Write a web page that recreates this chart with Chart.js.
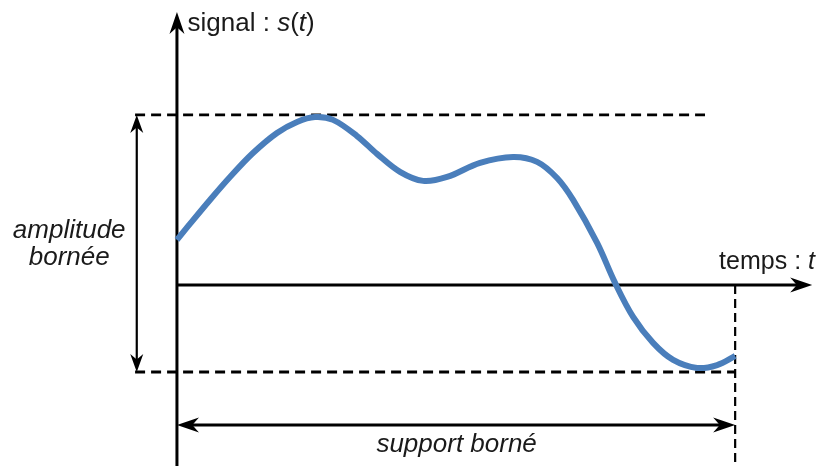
<!DOCTYPE html>
<html>
<head>
<meta charset="utf-8">
<script src="https://cdn.jsdelivr.net/npm/chart.js@4"></script>
<style>
html,body{margin:0;padding:0;background:#fff;}
#wrap{width:820px;height:466px;}
</style>
</head>
<body>
<div id="wrap"><canvas id="c" width="820" height="466"></canvas></div>
<script>
// ---- data (time t, signal s(t)) ----
const timeT = [0, 0.0233, 0.0591, 0.0950, 0.1362, 0.1792, 0.2151, 0.2473, 0.2796, 0.3226, 0.3584, 0.3996, 0.4409, 0.4839, 0.5430, 0.6022, 0.6452, 0.6810, 0.7097, 0.7527, 0.7849, 0.8172, 0.8530, 0.8889, 0.9319, 0.9677, 1.0];
const signalS = [0.265, 0.359, 0.5, 0.635, 0.776, 0.894, 0.959, 0.988, 0.971, 0.876, 0.771, 0.665, 0.612, 0.635, 0.718, 0.753, 0.724, 0.629, 0.5, 0.247, 0.012, -0.188, -0.341, -0.441, -0.488, -0.471, -0.418];
// view range
const xRange = [-0.317, 1.152];
const yRange = [-1.065, 1.676];
// reference levels
const supportBounds = [0, 1];          // support borné
const amplitudeBounds = [-0.512, 1.0]; // amplitude bornée
const topDashEnd = 0.946;
const dashStart = -0.075;
const ampArrowT = -0.072;
const supportArrowS = -0.824;
const axisEnds = [1.138, 1.606];       // x-axis tip, y-axis tip
const labels = {
  yAxis: ["signal : ", "s", "(", "t", ")"],
  xAxis: ["temps : ", "t"],
  amplitude: ["amplitude", "bornée"],
  support: "support borné"
};

const FONT = '"Liberation Sans", Arial, sans-serif';

function arrowHead(ctx, x, y, ang, len, half) {
  ctx.save();
  ctx.translate(x, y);
  ctx.rotate(ang);
  ctx.beginPath();
  ctx.moveTo(0, 0);
  ctx.lineTo(-len, -half);
  ctx.lineTo(-len * 0.7, 0);
  ctx.lineTo(-len, half);
  ctx.closePath();
  ctx.fill();
  ctx.restore();
}

function drawMixed(ctx, parts, italicIdx, x, y, size, align) {
  let widths = parts.map((p, i) => {
    ctx.font = (italicIdx.includes(i) ? 'italic ' : '') + size + 'px ' + FONT;
    return ctx.measureText(p).width;
  });
  let total = widths.reduce((a, b) => a + b, 0);
  let cx = align === 'right' ? x - total : (align === 'center' ? x - total / 2 : x);
  ctx.textAlign = 'left';
  parts.forEach((p, i) => {
    ctx.font = (italicIdx.includes(i) ? 'italic ' : '') + size + 'px ' + FONT;
    ctx.fillText(p, cx, y);
    cx += widths[i];
  });
}

const diagram = {
  id: 'diagram',
  beforeDatasetsDraw(chart) {
    const ctx = chart.ctx;
    const xs = chart.scales.x, ys = chart.scales.y;
    const X = v => xs.getPixelForValue(v), Y = v => ys.getPixelForValue(v);
    ctx.save();
    ctx.strokeStyle = '#000';
    ctx.fillStyle = '#000';
    ctx.lineCap = 'butt';

    // dashed bounds
    ctx.lineWidth = 2.8;
    ctx.setLineDash([10, 6]);
    ctx.beginPath();
    ctx.moveTo(X(dashStart), Y(amplitudeBounds[1]));
    ctx.lineTo(X(topDashEnd), Y(amplitudeBounds[1]));
    ctx.moveTo(X(dashStart), Y(amplitudeBounds[0]));
    ctx.lineTo(X(supportBounds[1]), Y(amplitudeBounds[0]));
    ctx.stroke();
    ctx.lineWidth = 2.2;
    ctx.setLineDash([9, 5]);
    ctx.beginPath();
    ctx.moveTo(X(supportBounds[1]), Y(0));
    ctx.lineTo(X(supportBounds[1]), Y(yRange[0]));
    ctx.stroke();
    ctx.setLineDash([]);

    // axes
    ctx.lineWidth = 3;
    ctx.beginPath();
    ctx.moveTo(X(0), Y(yRange[0]));
    ctx.lineTo(X(0), Y(axisEnds[1]) + 10);
    ctx.moveTo(X(0), Y(0));
    ctx.lineTo(X(axisEnds[0]) - 10, Y(0));
    ctx.stroke();
    arrowHead(ctx, X(0), Y(axisEnds[1]), -Math.PI / 2, 22, 7.5);
    arrowHead(ctx, X(axisEnds[0]), Y(0), 0, 22, 7.5);

    // amplitude double arrow
    ctx.lineWidth = 2.2;
    ctx.beginPath();
    ctx.moveTo(X(ampArrowT), Y(amplitudeBounds[1]) + 8);
    ctx.lineTo(X(ampArrowT), Y(amplitudeBounds[0]) - 8);
    ctx.stroke();
    arrowHead(ctx, X(ampArrowT), Y(amplitudeBounds[1]), -Math.PI / 2, 18, 6.5);
    arrowHead(ctx, X(ampArrowT), Y(amplitudeBounds[0]), Math.PI / 2, 18, 6.5);

    // support double arrow
    ctx.lineWidth = 3;
    ctx.beginPath();
    ctx.moveTo(X(supportBounds[0]) + 8, Y(supportArrowS));
    ctx.lineTo(X(supportBounds[1]) - 8, Y(supportArrowS));
    ctx.stroke();
    arrowHead(ctx, X(supportBounds[0]), Y(supportArrowS), Math.PI, 22, 7.5);
    arrowHead(ctx, X(supportBounds[1]), Y(supportArrowS), 0, 22, 7.5);

    // labels
    ctx.fillStyle = '#1a1a1a';
    ctx.textBaseline = 'alphabetic';
    drawMixed(ctx, labels.yAxis, [1, 3], X(0.019), Y(1.494), 26, 'left');
    drawMixed(ctx, labels.xAxis, [1], X(1.143), Y(0.094), 25, 'right');
    ctx.font = 'italic 26px ' + FONT;
    ctx.textAlign = 'center';
    ctx.fillText(labels.amplitude[0], X(-0.193), Y(0.276));
    ctx.fillText(labels.amplitude[1], X(-0.193), Y(0.118));
    ctx.fillText(labels.support, X(0.501), Y(-0.982));
    ctx.restore();
  }
};

new Chart(document.getElementById('c'), {
  type: 'line',
  data: {
    datasets: [{
      data: timeT.map((t, i) => ({x: t, y: signalS[i]})),
      borderColor: '#4a7ebb',
      borderWidth: 6,
      pointRadius: 0,
      tension: 0.35,
      fill: false
    }]
  },
  options: {
    responsive: false,
    animation: false,
    layout: {padding: 0},
    plugins: {legend: {display: false}, tooltip: {enabled: false}},
    scales: {
      x: {type: 'linear', display: false, min: xRange[0], max: xRange[1]},
      y: {type: 'linear', display: false, min: yRange[0], max: yRange[1]}
    }
  },
  plugins: [diagram]
});
</script>
</body>
</html>
